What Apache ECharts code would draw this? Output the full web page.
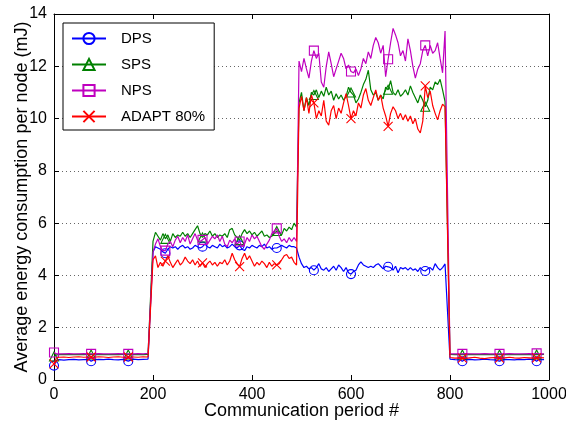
<!DOCTYPE html>
<html>
<head>
<meta charset="utf-8">
<script src="https://cdn.jsdelivr.net/npm/echarts@6/dist/echarts.min.js"></script>
<style>
html,body{margin:0;padding:0;background:#fff;}
#chart{width:566px;height:421px;}
</style>
</head>
<body>
<div id="chart"></div>
<script>
// x values (communication period #)
const periods = [
  0,5,10,20,30,40,50,60,70,75,80,90,100,110,120,130,140,150,160,170,180,190,
  200,205,210,215,220,225,230,235,240,245,
  250,255,260,265,270,275,280,285,290,295,
  300,305,310,315,320,325,330,335,340,345,
  350,355,360,365,370,375,380,385,390,395,
  400,405,410,415,420,425,430,435,440,445,
  450,455,460,465,470,475,480,485,490,
  495,500,505,510,515,520,525,530,535,540,
  545,550,555,560,565,570,575,580,585,590,
  595,600,605,610,615,620,625,630,635,640,
  645,650,655,660,665,670,675,680,685,690,
  695,700,705,710,715,720,725,730,735,740,
  745,750,755,760,765,770,775,780,785,790,
  800,810,820,825,830,840,850,860,870,880,890,900,910,920,930,940,950,960,970,975,980,990
];

const dps = [
  0.55,0.75,0.78,0.76,0.78,0.79,0.77,0.78,0.79,0.72,0.77,0.79,0.78,0.80,0.78,0.77,0.79,0.72,0.80,0.78,0.79,0.80,
  4.9,5.1,5.05,5.0,4.9,4.85,5.0,5.1,5.05,5.1,
  5.0,5.1,5.15,5.05,5.1,5.0,5.05,5.15,5.1,5.05,
  5.1,5.2,5.1,5.05,5.15,5.1,5.05,5.2,5.1,5.15,
  5.05,5.1,5.2,5.1,5.05,5.15,5.0,4.95,5.1,5.05,
  5.15,5.1,5.05,5.15,5.1,5.2,5.05,5.1,5.0,5.05,
  5.05,5.1,5.15,5.1,5.05,5.15,5.1,5.1,5.05,
  4.7,4.45,4.3,4.35,4.25,4.3,4.2,4.3,4.45,4.25,
  4.2,4.3,4.15,4.25,4.35,4.2,4.4,4.3,4.15,4.3,
  4.1,4.05,4.15,4.2,4.4,4.52,4.4,4.35,4.3,4.35,
  4.3,4.4,4.45,4.35,4.25,4.35,4.33,4.3,4.2,4.35,
  4.1,4.3,4.25,4.3,4.2,4.3,4.2,4.25,4.15,4.3,
  4.2,4.17,4.25,4.3,4.2,4.45,4.3,4.2,4.3,4.44,
  0.80,0.78,0.77,0.72,0.78,0.79,0.77,0.78,0.80,0.78,0.77,0.72,0.79,0.78,0.77,0.79,0.78,0.80,0.78,0.72,0.79,0.78
];

const sps = [
  0.90,0.96,0.97,0.98,0.97,0.97,0.98,0.97,0.98,0.98,0.97,0.98,0.97,0.97,0.98,0.97,0.98,0.98,0.97,0.98,0.97,0.98,
  5.3,5.65,5.5,5.35,5.6,5.4,5.55,5.3,5.6,5.45,
  5.55,5.5,5.65,5.5,5.6,5.45,5.6,5.75,5.9,5.6,
  5.45,5.6,5.55,5.7,5.5,5.6,5.45,5.55,5.5,5.6,
  5.45,5.75,5.8,5.55,5.45,5.35,5.6,5.75,5.6,5.7,
  5.55,5.65,5.5,5.6,5.7,5.5,5.55,5.45,5.5,5.6,
  5.7,5.65,5.55,5.8,5.7,5.85,5.75,6.0,5.85,
  10.6,11.0,10.3,10.8,10.5,11.0,10.9,11.1,10.8,11.05,
  10.85,11.2,10.9,11.05,10.7,10.95,10.75,10.9,10.7,10.85,
  11.2,11.0,10.9,10.6,10.75,11.0,11.3,11.5,11.85,11.1,
  10.9,11.0,10.7,10.9,10.75,11.2,11.1,11.45,11.0,10.9,
  11.1,10.85,10.95,11.1,10.9,11.25,11.0,10.8,10.6,10.9,
  10.7,10.45,10.7,11.2,11.1,11.4,11.3,11.5,11.1,10.65,
  0.98,0.97,0.97,0.98,0.97,0.98,0.97,0.97,0.98,0.97,0.97,0.98,0.97,0.98,0.97,0.97,0.98,0.97,0.97,0.98,0.97,0.98
];

const nps = [
  1.05,1.0,1.0,1.0,1.01,1.0,1.0,1.01,1.0,1.0,1.0,1.01,1.0,1.0,1.0,1.01,1.0,1.0,1.0,1.01,1.0,1.02,
  4.9,5.2,5.4,5.1,4.95,4.95,5.2,5.3,5.1,5.35,
  5.5,5.25,5.45,5.3,5.55,5.2,5.4,5.6,5.35,5.3,
  5.36,5.45,5.2,5.35,5.5,5.4,5.55,5.3,5.5,5.2,
  5.1,5.35,5.25,5.4,5.2,5.3,5.1,5.2,5.45,5.3,
  5.55,5.4,5.5,5.3,5.1,5.0,5.2,5.35,5.6,5.7,
  5.8,5.5,5.3,5.4,5.25,5.45,5.3,5.45,5.3,
  12.2,11.8,12.3,11.9,11.55,12.2,12.6,12.3,12.5,11.4,
  11.2,12.0,12.55,12.1,11.6,11.9,12.2,12.5,12.3,11.9,
  12.05,11.8,11.75,11.9,11.65,11.9,12.3,12.1,12.55,12.3,
  12.8,13.1,12.9,12.5,12.8,11.6,12.27,12.9,13.45,13.2,
  12.9,12.4,12.6,12.2,13.05,12.6,12.0,11.55,11.9,12.1,
  12.6,12.8,12.4,12.8,12.5,12.6,12.9,12.3,11.75,13.35,
  1.0,1.0,1.0,1.0,1.01,1.0,1.0,1.0,1.01,1.0,1.0,1.0,1.0,1.01,1.0,1.0,1.0,1.01,1.0,1.02,1.0,1.0
];

const adapt = [
  0.62,0.85,0.87,0.88,0.86,0.88,0.89,0.87,0.88,0.88,0.87,0.89,0.88,0.86,0.88,0.89,0.87,0.88,0.88,0.87,0.89,0.88,
  4.6,4.75,4.3,4.5,4.35,4.55,4.75,4.5,4.3,4.45,
  4.6,4.4,4.5,4.7,4.55,4.45,4.6,4.4,4.55,4.35,
  4.48,4.3,4.45,4.55,4.4,4.5,4.35,4.5,4.45,4.6,
  4.4,4.55,4.85,4.6,4.45,4.34,4.65,4.85,4.6,4.75,
  4.55,4.35,4.5,4.4,4.55,4.45,4.3,4.5,4.35,4.45,
  4.4,4.45,4.6,4.75,4.8,4.65,4.7,4.5,4.4,
  10.4,10.85,10.3,10.8,10.2,10.9,10.6,10.0,10.3,10.1,
  10.7,9.9,9.75,10.3,10.5,10.0,10.4,10.2,10.6,10.95,
  10.5,10.0,10.3,10.1,10.6,10.4,10.9,11.15,10.7,10.5,
  10.8,11.1,10.7,10.9,10.4,10.1,9.7,10.2,10.45,10.3,
  10.0,10.2,9.95,10.15,9.9,10.1,9.8,10.0,9.6,9.45,
  9.9,11.25,10.8,11.05,10.5,10.2,9.95,10.3,10.55,10.45,
  0.86,0.84,0.85,0.84,0.83,0.85,0.87,0.84,0.82,0.85,0.86,0.84,0.85,0.87,0.85,0.84,0.86,0.85,0.84,0.85,0.86,0.85
];

const seriesNames = ['DPS','SPS','NPS','ADAPT 80%'];
const xTicks = [0,200,400,600,800,1000];
const yTicks = [0,2,4,6,8,10,12,14];
const markerPeriods = [0,75,150,225,300,375,450,525,600,675,750,825,900,975];

const FONT = 'Liberation Sans, Arial, sans-serif';
const styles = [
  {values: dps,   color: '#0000ff', symbol: 'circle'},
  {values: sps,   color: '#008000', symbol: 'triangle'},
  {values: nps,   color: '#bf00bf', symbol: 'rect'},
  {values: adapt, color: '#ff0000', symbol: 'path://M0,0L10,10M10,0L0,10'}
];

const series = styles.map((s, k) => ({
  name: seriesNames[k],
  type: 'line',
  xAxisIndex: 0,
  yAxisIndex: 0,
  symbol: s.symbol,
  symbolSize: 9,
  showSymbol: true,
  showAllSymbol: true,
  clip: true,
  z: 2 + k,
  lineStyle: {color: s.color, width: 1.2},
  itemStyle: {color: 'rgba(0,0,0,0)', borderColor: s.color, borderWidth: 1.1},
  emphasis: {disabled: true},
  data: periods.map((p, i) => markerPeriods.indexOf(p) >= 0
    ? {value: [p, s.values[i]]}
    : {value: [p, s.values[i]], symbol: 'none'})
}));

const plain = v => String(v);

const chart = echarts.init(document.getElementById('chart'), null, {renderer: 'canvas'});
chart.setOption({
  animation: false,
  backgroundColor: '#fff',
  textStyle: {fontFamily: FONT},
  grid: {left: 54, right: 17, top: 14, bottom: 41, containLabel: false, outerBoundsMode: 'none'},
  legend: {
    orient: 'vertical',
    left: 63, top: 23,
    data: seriesNames,
    backgroundColor: '#fff',
    borderColor: '#000', borderWidth: 1, borderRadius: 0,
    padding: [8, 9, 6, 8],
    itemGap: 11, itemWidth: 34, itemHeight: 14,
    textStyle: {fontFamily: FONT, fontSize: 15, color: '#000', lineHeight: 14, padding: [0, 0, 0, 10]}
  },
  xAxis: [
    {
      type: 'value', position: 'bottom', min: xTicks[0], max: xTicks[xTicks.length - 1], interval: 200,
      name: 'Communication period #', nameLocation: 'middle', nameGap: 22, nameMoveOverlap: false,
      nameTextStyle: {fontFamily: FONT, fontSize: 18, color: '#000'},
      axisLine: {show: true, onZero: false, lineStyle: {color: '#000', width: 1}},
      axisTick: {show: true, inside: true, length: 5, lineStyle: {color: '#000'}},
      axisLabel: {fontFamily: FONT, fontSize: 16, color: '#000', margin: 7, formatter: plain},
      splitLine: {show: false}
    },
    {
      type: 'value', position: 'top', min: xTicks[0], max: xTicks[xTicks.length - 1], interval: 200,
      axisLine: {show: true, onZero: false, lineStyle: {color: '#000', width: 1}},
      axisTick: {show: true, inside: true, length: 5, lineStyle: {color: '#000'}},
      axisLabel: {show: false},
      splitLine: {show: false}
    }
  ],
  yAxis: [
    {
      type: 'value', position: 'left', min: yTicks[0], max: yTicks[yTicks.length - 1], interval: 2,
      name: 'Average energy consumption per node (mJ)', nameLocation: 'middle', nameGap: 23, nameMoveOverlap: false,
      nameTextStyle: {fontFamily: FONT, fontSize: 18, color: '#000'},
      axisLine: {show: true, onZero: false, lineStyle: {color: '#000', width: 1}},
      axisTick: {show: true, inside: true, length: 5, lineStyle: {color: '#000'}},
      axisLabel: {fontFamily: FONT, fontSize: 16, color: '#000', margin: 7, formatter: plain},
      splitLine: {show: true, lineStyle: {color: '#666', width: 1, type: [1, 3]}}
    },
    {
      type: 'value', position: 'right', min: yTicks[0], max: yTicks[yTicks.length - 1], interval: 2,
      axisLine: {show: true, onZero: false, lineStyle: {color: '#000', width: 1}},
      axisTick: {show: true, inside: true, length: 5, lineStyle: {color: '#000'}},
      axisLabel: {show: false},
      splitLine: {show: false}
    }
  ],
  series: series
});
</script>
</body>
</html>
